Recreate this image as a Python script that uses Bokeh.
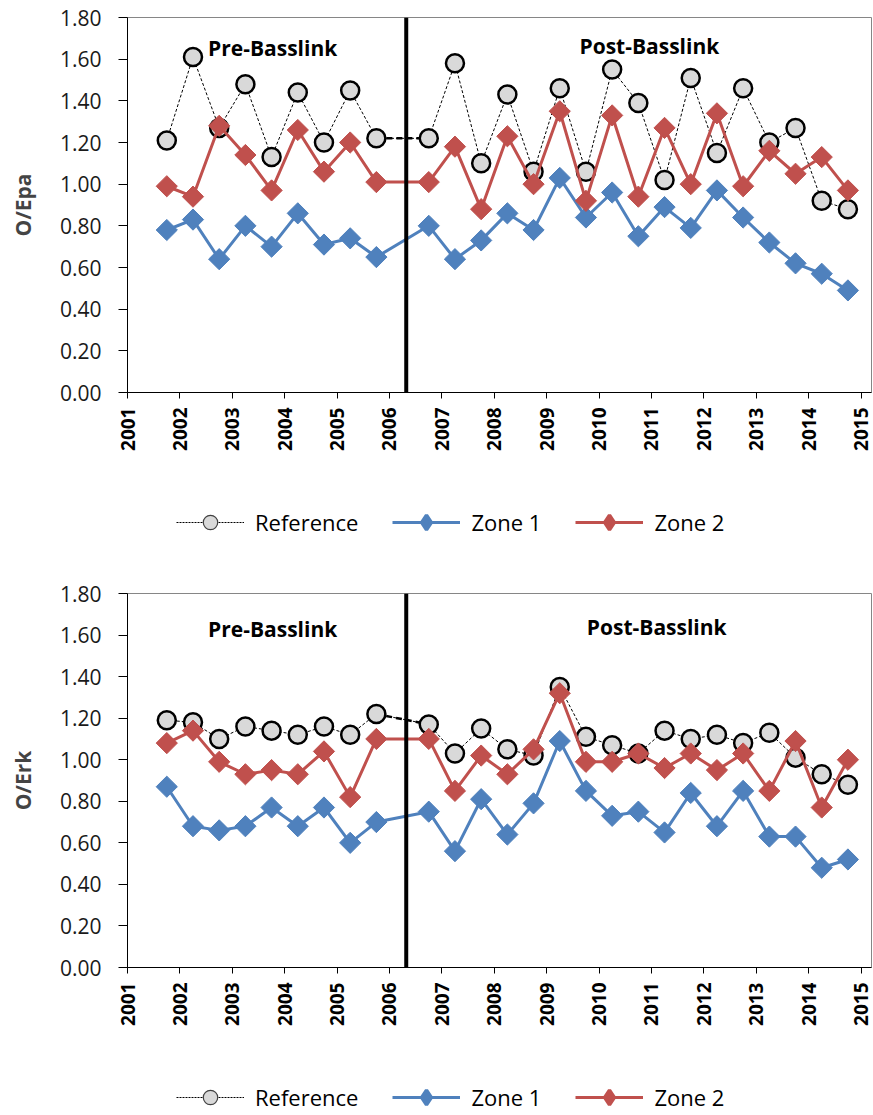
import math
from bokeh.plotting import figure
from bokeh.layouts import column
from bokeh.models import (Range1d, FixedTicker, PrintfTickFormatter, Span, Label,
                          Legend, LegendItem, ColumnDataSource)
from bokeh.embed import file_html
from bokeh.resources import INLINE

# ---------------- data ----------------
periods = [2001.75, 2002.25, 2002.75, 2003.25, 2003.75, 2004.25, 2004.75, 2005.25, 2005.75,
           2006.75, 2007.25, 2007.75, 2008.25, 2008.75, 2009.25, 2009.75, 2010.25, 2010.75,
           2011.25, 2011.75, 2012.25, 2012.75, 2013.25, 2013.75, 2014.25, 2014.75]

epa_reference = [1.21, 1.61, 1.27, 1.48, 1.13, 1.44, 1.20, 1.45, 1.22,
                 1.22, 1.58, 1.10, 1.43, 1.06, 1.46, 1.06, 1.55, 1.39,
                 1.02, 1.51, 1.15, 1.46, 1.20, 1.27, 0.92, 0.88]
epa_zone1 = [0.78, 0.83, 0.64, 0.80, 0.70, 0.86, 0.71, 0.74, 0.65,
             0.80, 0.64, 0.73, 0.86, 0.78, 1.03, 0.84, 0.96, 0.75,
             0.89, 0.79, 0.97, 0.84, 0.72, 0.62, 0.57, 0.49]
epa_zone2 = [0.99, 0.94, 1.28, 1.14, 0.97, 1.26, 1.06, 1.20, 1.01,
             1.01, 1.18, 0.88, 1.23, 1.00, 1.35, 0.92, 1.33, 0.94,
             1.27, 1.00, 1.34, 0.99, 1.16, 1.05, 1.13, 0.97]

erk_reference = [1.19, 1.18, 1.10, 1.16, 1.14, 1.12, 1.16, 1.12, 1.22,
                 1.17, 1.03, 1.15, 1.05, 1.02, 1.35, 1.11, 1.07, 1.03,
                 1.14, 1.10, 1.12, 1.08, 1.13, 1.01, 0.93, 0.88]
erk_zone1 = [0.87, 0.68, 0.66, 0.68, 0.77, 0.68, 0.77, 0.60, 0.70,
             0.75, 0.56, 0.81, 0.64, 0.79, 1.09, 0.85, 0.73, 0.75,
             0.65, 0.84, 0.68, 0.85, 0.63, 0.63, 0.48, 0.52]
erk_zone2 = [1.08, 1.14, 0.99, 0.93, 0.95, 0.93, 1.04, 0.82, 1.10,
             1.10, 0.85, 1.02, 0.93, 1.05, 1.32, 0.99, 0.99, 1.03,
             0.96, 1.03, 0.95, 1.03, 0.85, 1.09, 0.77, 1.00]

year_ticks = list(range(2001, 2016))
y_ticks = [0.0, 0.2, 0.4, 0.6, 0.8, 1.0, 1.2, 1.4, 1.6, 1.8]
series_names = ["Reference", "Zone 1", "Zone 2"]
period_labels = ["Pre-Basslink", "Post-Basslink"]
basslink_date = 2006.32

BLUE = "#4f81bd"
RED = "#c0504d"
REF_FILL = "#d9d9d9"
FONT = "Open Sans"
W = 873


def make_panel(ylabel, ref, z1, z2, height, top_border, bottom_border, label_pos):
    p = figure(width=W, height=height, output_backend="svg", toolbar_location=None,
               x_range=Range1d(2001, 2015.2), y_range=Range1d(0, 1.8),
               min_border_left=127, min_border_right=2,
               min_border_top=top_border, min_border_bottom=bottom_border)
    p.xgrid.visible = False
    p.ygrid.visible = False
    p.outline_line_color = "#868686"
    p.outline_line_width = 1

    src = ColumnDataSource(dict(x=periods, ref=ref, z1=z1, z2=z2))
    gap = ColumnDataSource(dict(x=periods[8:10], y=ref[8:10]))

    p.line("x", "ref", source=src, line_color="black", line_width=1, line_dash="3 2")
    p.line("x", "y", source=gap, line_color="black", line_width=2.5, line_dash="6 4")
    p.scatter("x", "ref", source=src, marker="circle", size=18,
              fill_color=REF_FILL, line_color="black", line_width=2.5)

    p.line("x", "z1", source=src, line_color=BLUE, line_width=3)
    p.scatter("x", "z1", source=src, marker="square", angle=math.pi / 4, size=15,
              fill_color=BLUE, line_color=BLUE)
    p.line("x", "z2", source=src, line_color=RED, line_width=3)
    p.scatter("x", "z2", source=src, marker="square", angle=math.pi / 4, size=15,
              fill_color=RED, line_color=RED)

    p.add_layout(Span(location=basslink_date, dimension="height",
                      line_color="black", line_width=4))

    for txt, (lx, ly) in zip(period_labels, label_pos):
        p.add_layout(Label(x=lx, y=ly, text=txt, text_align="center", text_baseline="middle",
                           text_font=FONT, text_font_style="bold", text_font_size="21px",
                           text_color="black"))

    p.xaxis.ticker = FixedTicker(ticks=year_ticks)
    p.xaxis.formatter = PrintfTickFormatter(format="%d")
    p.xaxis.major_label_orientation = math.pi / 2
    p.xaxis.major_label_text_font = FONT
    p.xaxis.major_label_text_font_style = "bold"
    p.xaxis.major_label_text_font_size = "19px"
    p.xaxis.major_label_text_color = "black"
    p.xaxis.major_label_standoff = 9
    p.xaxis.major_tick_out = 6
    p.xaxis.major_tick_in = 0
    p.xaxis.minor_tick_line_color = None
    p.xaxis.axis_line_color = "black"
    p.xaxis.major_tick_line_color = "black"

    p.yaxis.ticker = FixedTicker(ticks=y_ticks)
    p.yaxis.formatter = PrintfTickFormatter(format="%.2f")
    p.yaxis.major_label_text_font = FONT
    p.yaxis.major_label_text_font_size = "21px"
    p.yaxis.major_label_text_color = "#1a1a1a"
    p.yaxis.major_label_standoff = 17
    p.yaxis.major_tick_out = 9
    p.yaxis.major_tick_in = 0
    p.yaxis.minor_tick_line_color = None
    p.yaxis.axis_line_color = "black"
    p.yaxis.major_tick_line_color = "black"
    p.yaxis.axis_label = ylabel
    p.yaxis.axis_label_text_font = FONT
    p.yaxis.axis_label_text_font_style = "bold"
    p.yaxis.axis_label_text_font_size = "21px"
    p.yaxis.axis_label_standoff = 20
    return p


def make_legend(height, loc, ref, z1, z2):
    f = figure(width=W, height=height, output_backend="svg", toolbar_location=None,
               x_range=Range1d(0, 1), y_range=Range1d(0, 1),
               min_border_left=0, min_border_right=0, min_border_top=0, min_border_bottom=0)
    f.axis.visible = False
    f.grid.visible = False
    f.outline_line_color = None
    # hidden renderers: only their legend glyphs are shown
    src = ColumnDataSource(dict(x=periods, ref=ref, z1=z1, z2=z2))
    ref_l = f.line("x", "ref", source=src, line_color="black", line_width=1,
                   line_dash="2 1", visible=False)
    ref_m = f.scatter("x", "ref", source=src, marker="circle", size=14,
                      fill_color=REF_FILL, line_color="#404040", line_width=1.2, visible=False)
    z1_l = f.line("x", "z1", source=src, line_color=BLUE, line_width=3, visible=False)
    z1_m = f.scatter("x", "z1", source=src, marker="diamond", size=14,
                     fill_color=BLUE, line_color=BLUE, line_width=3.5, visible=False)
    z2_l = f.line("x", "z2", source=src, line_color=RED, line_width=3, visible=False)
    z2_m = f.scatter("x", "z2", source=src, marker="diamond", size=14,
                     fill_color=RED, line_color=RED, line_width=3.5, visible=False)
    legend = Legend(items=[
        LegendItem(label=series_names[0], renderers=[ref_l, ref_m]),
        LegendItem(label=series_names[1], renderers=[z1_l, z1_m]),
        LegendItem(label=series_names[2], renderers=[z2_l, z2_m]),
    ], orientation="horizontal", location=loc,
        glyph_width=68, glyph_height=36, label_standoff=11, spacing=34,
        padding=0, margin=0, border_line_color=None, background_fill_alpha=0,
        label_text_font=FONT, label_text_font_size="22px", label_text_color="black")
    f.add_layout(legend)
    return f


p1 = make_panel("O/Epa", epa_reference, epa_zone1, epa_zone2,
                height=455, top_border=17, bottom_border=63,
                label_pos=[(2003.77, 1.655), (2010.96, 1.664)])
leg1 = make_legend(105, (49, 20), epa_reference, epa_zone1, epa_zone2)
p2 = make_panel("O/Erk", erk_reference, erk_zone1, erk_zone2,
                height=470, top_border=33, bottom_border=63,
                label_pos=[(2003.77, 1.628), (2011.1, 1.638)])
leg2 = make_legend(85, (49, 0), erk_reference, erk_zone1, erk_zone2)

layout = column(p1, leg1, p2, leg2)
open("out.html", "w").write(file_html(layout, INLINE))
